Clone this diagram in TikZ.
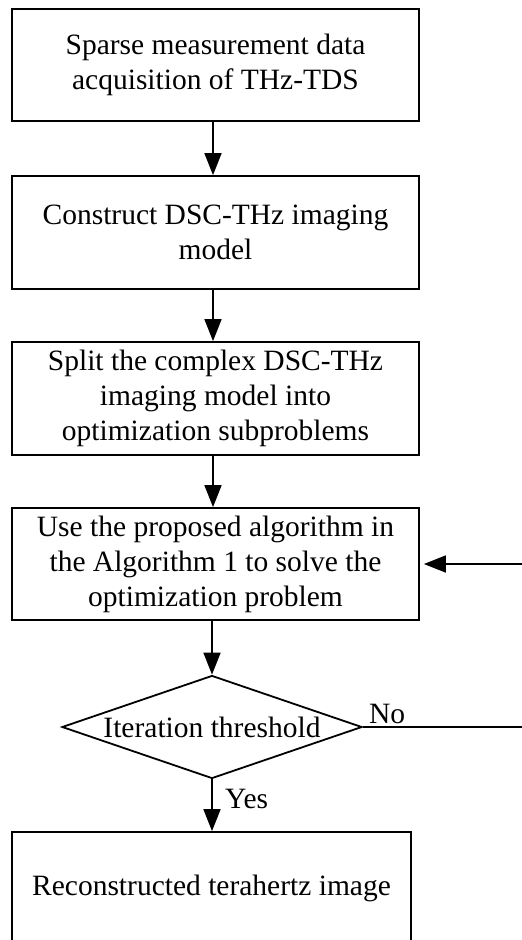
\documentclass[tikz,border=0pt]{standalone}
\usepackage{fontspec}
\setmainfont{Liberation Serif}
\usetikzlibrary{shapes.geometric,arrows.meta}
\begin{document}
\begin{tikzpicture}[x=1pt,y=-1pt,
  txt/.style={font=\fontsize{29.5}{35}\selectfont},
  box/.style={txt, draw, line width=1.8pt, minimum width=407pt, minimum height=112pt, align=center, inner sep=0pt},
  dec/.style={txt, diamond, draw, line width=1.8pt, minimum width=300pt, minimum height=103pt, aspect=2.91, inner sep=0pt},
  arr/.style={line width=1.8pt, -{Triangle[length=22pt,width=17pt]}},
  lbl/.style={txt, inner sep=0pt}]
\useasboundingbox (0,0) rectangle (522,940);
\clip (0,0) rectangle (522,940);
\node[box] (b1) at (215.5,65) {Sparse measurement data\\acquisition of THz-TDS};
\node[box, minimum height=113pt] (b2) at (215.5,232.5) {Construct DSC-THz imaging\\model};
\node[box, minimum height=113pt] (b3) at (215.5,398.5) {Split the complex DSC-THz\\imaging model into\\optimization subproblems};
\node[box] (b4) at (215.5,564) {Use the proposed algorithm in\\the Algorithm 1 to solve the\\optimization problem};
\node[dec] (d) at (212,727) {Iteration threshold};
\node[box, minimum width=399pt] (b5) at (211.5,888) {Reconstructed terahertz image};
\coordinate (ax) at (213,0);
\coordinate (fb) at (545,727);
\draw[arr] (b1.south -| ax) -- (b2.north -| ax);
\draw[arr] (b2.south -| ax) -- (b3.north -| ax);
\draw[arr] (b3.south -| ax) -- (b4.north -| ax);
\draw[arr] (b4.south -| d.north) -- (d.north);
\draw[arr] (d.south) -- (b5.north -| d.south);
\draw[arr, shorten >=4pt] (d.east) -- (fb) |- (b4.east);
\node[lbl, anchor=base west] (no) at ([xshift=6pt,yshift=4pt]d.east) {No};
\node[lbl, anchor=base west] (yes) at ([xshift=13pt,yshift=-29pt]d.south) {Yes};
\end{tikzpicture}
\end{document}
